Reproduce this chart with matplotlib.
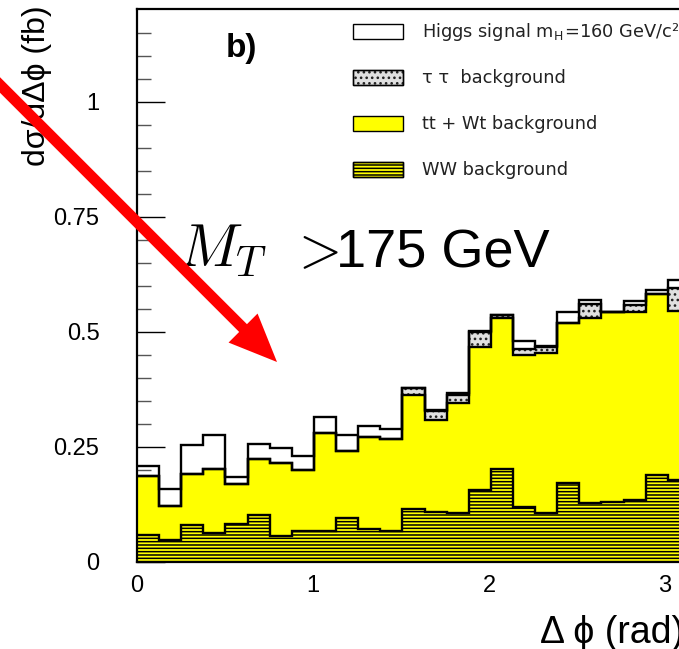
import numpy as np
import matplotlib
matplotlib.use("Agg")
import matplotlib.pyplot as plt
from matplotlib.patches import Rectangle, FancyArrow
from matplotlib.transforms import IdentityTransform

# ---------------- data ----------------
n_bins = 25
ww = [0.059, 0.048, 0.080, 0.064, 0.082, 0.103, 0.056, 0.068, 0.067, 0.095,
      0.071, 0.068, 0.116, 0.108, 0.106, 0.157, 0.203, 0.120, 0.106, 0.171,
      0.129, 0.131, 0.134, 0.189, 0.178]
ttwt = [0.127, 0.074, 0.112, 0.139, 0.088, 0.120, 0.159, 0.132, 0.213, 0.146,
        0.200, 0.200, 0.246, 0.200, 0.240, 0.309, 0.328, 0.329, 0.349, 0.348,
        0.400, 0.413, 0.409, 0.394, 0.367]
tautau = [0.0, 0.0, 0.0, 0.0, 0.0, 0.0, 0.0, 0.0, 0.0, 0.0,
          0.0, 0.0, 0.015, 0.020, 0.016, 0.034, 0.005, 0.014, 0.012, 0.0,
          0.032, 0.0, 0.016, 0.0, 0.051]
higgs = [0.023, 0.036, 0.063, 0.073, 0.014, 0.034, 0.033, 0.030, 0.034, 0.034,
         0.024, 0.021, 0.002, 0.002, 0.005, 0.002, 0.0, 0.016, 0.002, 0.023,
         0.009, 0.0, 0.008, 0.008, 0.017]
legend_labels = [r"Higgs signal m$_{\mathregular{H}}$=160 GeV/c²",
                 "τ τ  background",
                 "tt + Wt background",
                 "WW background"]
ytick_vals = [0, 0.25, 0.5, 0.75, 1.0]
ytick_labels = ["0", "0.25", "0.5", "0.75", "1"]
xtick_vals = [0, 1, 2, 3]
xtick_labels = ["0", "1", "2", "3"]

# ---------------- style ----------------
plt.rcParams['font.family'] = ['Liberation Sans', 'DejaVu Sans']
plt.rcParams['mathtext.fontset'] = 'cm'
plt.rcParams['hatch.linewidth'] = 1.1

W, H = 679, 649
fig = plt.figure(figsize=(W / 100, H / 100), dpi=100)

def fx(px):
    return px / W

def fy(py):
    return 1 - py / H

x0, x1 = 0.0, np.pi
y0, y1 = 0.0, 1.2
ax_left, ax_bottom_px, ax_top_px = 137, 562, 9.5
ax_w_px = 176.0 * (x1 - x0)
ax = fig.add_axes([fx(ax_left), fy(ax_bottom_px), ax_w_px / W,
                   (ax_bottom_px - ax_top_px) / H])

edges = np.linspace(x0, x1, n_bins + 1)
ww_a = np.array(ww)
yel_top = ww_a + np.array(ttwt)
tau_top = yel_top + np.array(tautau)
tot_top = tau_top + np.array(higgs)

# fills
ax.stairs(yel_top, edges, baseline=ww_a, fill=True, facecolor='#ffff00',
          edgecolor='none', lw=0, zorder=1)
ax.stairs(ww_a, edges, baseline=0, fill=True, facecolor='#ffff00',
          edgecolor='black', lw=0, hatch='-----', zorder=1)
ax.stairs(tau_top, edges, baseline=yel_top, fill=True, facecolor='#e0e0e0',
          edgecolor='#202020', lw=0, hatch='...', zorder=1)

# outlines
for lvl in (ww_a, yel_top, tau_top, tot_top):
    ax.stairs(lvl, edges, baseline=None, fill=False, color='black', lw=1.7,
              zorder=2)

ax.set_xlim(x0, x1)
ax.set_ylim(y0, y1)
ax.set_axisbelow(True)
ax.set_yticks(ytick_vals)
ax.set_yticklabels(ytick_labels)
ax.set_yticks(np.arange(0.05, 1.2, 0.05), minor=True)
ax.set_xticks(xtick_vals)
ax.set_xticklabels(xtick_labels)
ax.tick_params(axis='y', which='major', direction='in', length=20, width=1,
               labelsize=17, pad=27, color='black')
ax.tick_params(axis='y', which='minor', direction='in', length=10, width=1,
               color='#555555')
ax.tick_params(axis='x', which='major', direction='in', length=0,
               labelsize=17, pad=9)
for sp in ax.spines.values():
    sp.set_linewidth(1.6)
    sp.set_zorder(3)

# axis titles
fig.text(fx(37), fy(86), "dσ/dΔϕ (fb)", rotation=90, ha='center',
         va='center', fontsize=23)
fig.text(fx(540), fy(633), "Δ ϕ (rad)", ha='left', va='center', fontsize=27)

# panel label
fig.text(fx(226), fy(57), "b)", ha='left', va='baseline', fontsize=24,
         fontweight='bold')

# legend (manual, figure pixels)
leg_styles = [dict(facecolor='white', edgecolor='black'),
              dict(facecolor='#e0e0e0', edgecolor='#202020', hatch='...'),
              dict(facecolor='#ffff00', edgecolor='black'),
              dict(facecolor='#ffff00', edgecolor='black', hatch='-----')]
row_tops = [24, 70, 116, 162]
for lab, st, top in zip(legend_labels, leg_styles, row_tops):
    r = Rectangle((fx(353), fy(top + 15)), fx(50), 15 / H,
                  transform=fig.transFigure, lw=1.0, **st)
    fig.add_artist(r)
    if 'hatch' in st:
        fig.add_artist(Rectangle((fx(353), fy(top + 15)), fx(50), 15 / H,
                                 transform=fig.transFigure, lw=1.0,
                                 facecolor='none', edgecolor='black'))
    fig.text(fx(422), fy(top + 8), lab, ha='left', va='center',
             fontsize=12.8, family='DejaVu Sans', color='#222222')

# big annotation
fig.text(fx(178), fy(267), r"$M_T$", ha='left', va='baseline', fontsize=43)
fig.text(fx(289), fy(267), r"$>$", ha='left', va='baseline', fontsize=40)
fig.text(fx(336), fy(267), "175 GeV", ha='left', va='baseline', fontsize=39)

# red arrow (figure pixels, y up)
tip = (277, H - 362)
d = 277 + 40
arrow = FancyArrow(tip[0] - d, tip[1] + d, d, -d, width=11,
                   head_width=41, head_length=48, length_includes_head=True,
                   color='#ff0000', lw=0, transform=IdentityTransform(),
                   zorder=10)
fig.add_artist(arrow)

fig.savefig("out.png", dpi=100)
